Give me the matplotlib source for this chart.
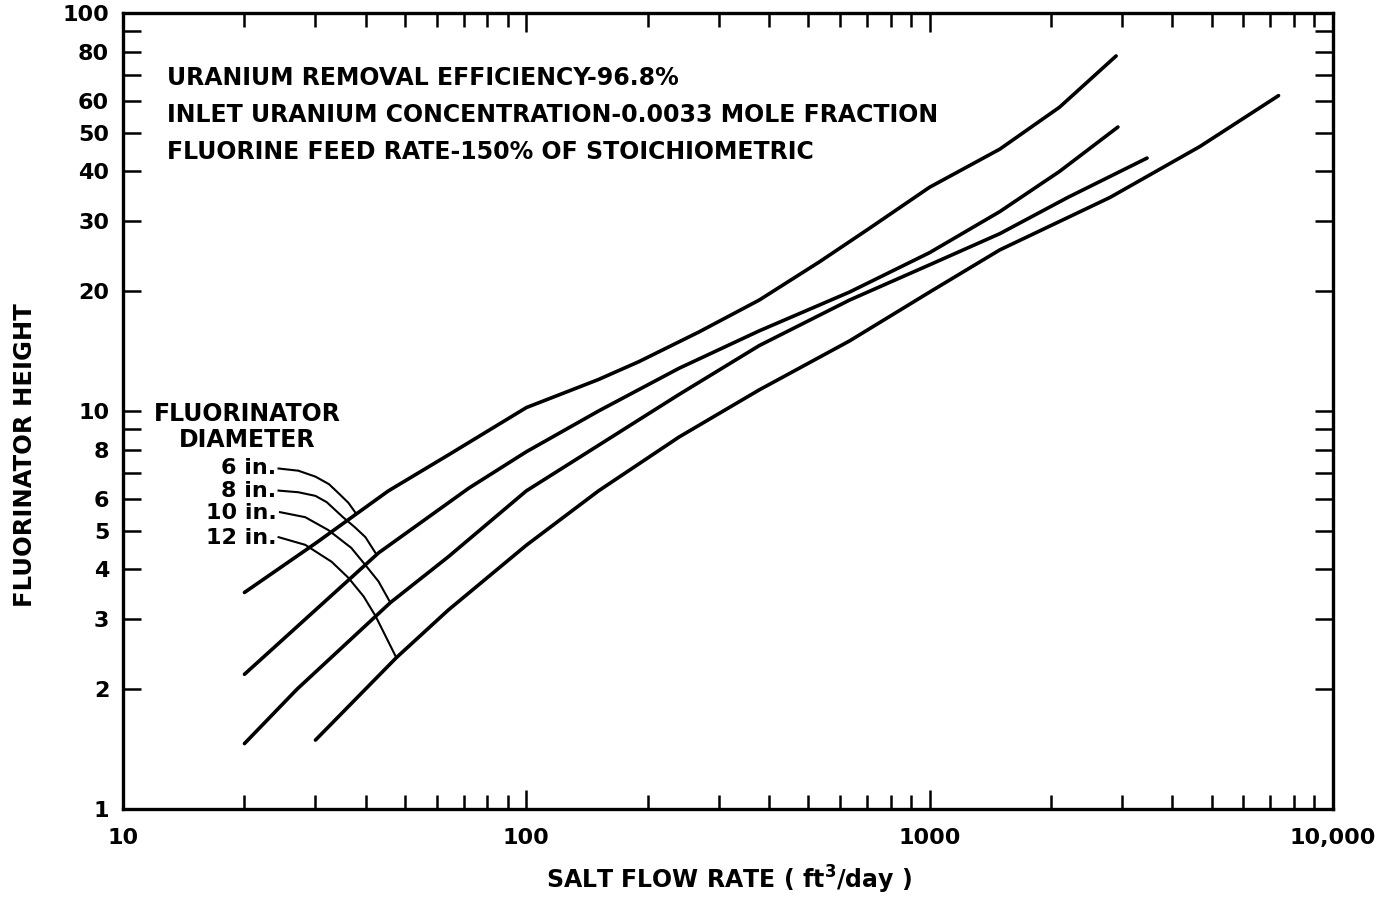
import matplotlib.pyplot as plt
from matplotlib.ticker import FixedLocator, NullFormatter

plt.rcParams['font.family'] = ['DejaVu Sans']
plt.rcParams['font.weight'] = 'bold'

# fluorinator height vs salt flow rate, one curve per diameter
flow_6 = [20, 30, 45.5, 64, 100, 151, 190, 268, 378, 533, 710, 1000, 1493, 2100, 2900]
height_6 = [3.5, 4.65, 6.3, 7.75, 10.2, 12.0, 13.3, 15.8, 19.0, 23.7, 28.8, 36.5, 45.5, 58.0, 78.0]

flow_8 = [20, 43, 72, 100, 151, 239, 378, 633, 1000, 1493, 2100, 2930]
height_8 = [2.18, 4.4, 6.4, 7.9, 10.0, 12.8, 15.9, 19.9, 25.0, 31.7, 40.0, 51.7]

flow_10 = [20, 27, 46, 64, 100, 151, 239, 378, 633, 1000, 1493, 2200, 3460]
height_10 = [1.46, 2.0, 3.3, 4.3, 6.3, 8.2, 11.0, 14.6, 19.0, 23.3, 27.9, 34.4, 43.2]

flow_12 = [30, 47.6, 64, 100, 151, 239, 378, 633, 1000, 1493, 2800, 4680, 7330]
height_12 = [1.49, 2.4, 3.16, 4.6, 6.3, 8.6, 11.3, 15.0, 19.9, 25.4, 34.4, 46.2, 62.0]

# leader lines from the diameter labels to their curves
lead_6_x = [24.3, 27.2, 30.0, 32.4, 34.2, 36.2, 37.7]
lead_6_y = [7.17, 7.08, 6.84, 6.55, 6.22, 5.88, 5.55]
lead_8_x = [24.3, 27.2, 30.0, 32.0, 35.1, 37.6, 39.9, 42.5]
lead_8_y = [6.31, 6.25, 6.12, 5.9, 5.41, 5.1, 4.82, 4.36]
lead_10_x = [24.5, 28.3, 32.3, 36.8, 39.9, 43.0, 46.0]
lead_10_y = [5.57, 5.41, 5.02, 4.53, 4.10, 3.73, 3.3]
lead_12_x = [24.3, 28.3, 32.9, 36.2, 39.5, 42.3, 47.6]
lead_12_y = [4.82, 4.61, 4.18, 3.81, 3.42, 3.05, 2.4]

diameters = ['6 in.', '8 in.', '10 in.', '12 in.']
label_y = [7.2, 6.3, 5.55, 4.8]

x_major = [10, 100, 1000, 10000]
x_major_labels = ['10', '100', '1000', '10,000']
y_labeled = [1, 2, 3, 4, 5, 6, 8, 10, 20, 30, 40, 50, 60, 80, 100]

notes = ['URANIUM REMOVAL EFFICIENCY-96.8%',
         'INLET URANIUM CONCENTRATION-0.0033 MOLE FRACTION',
         'FLUORINE FEED RATE-150% OF STOICHIOMETRIC']

fig = plt.figure(figsize=(13.78, 8.97), dpi=100)
ax = fig.add_axes([0.0893, 0.0981, 0.878, 0.8874])
ax.set_xscale('log')
ax.set_yscale('log')
ax.set_xlim(10, 10000)
ax.set_ylim(1, 100)

for xs, ys in [(flow_6, height_6), (flow_8, height_8), (flow_10, height_10), (flow_12, height_12)]:
    ax.plot(xs, ys, color='black', linewidth=2.6, solid_capstyle='round', solid_joinstyle='round')

for xs, ys in [(lead_6_x, lead_6_y), (lead_8_x, lead_8_y), (lead_10_x, lead_10_y), (lead_12_x, lead_12_y)]:
    ax.plot(xs, ys, color='black', linewidth=1.5, solid_joinstyle='round')

for name, yy in zip(diameters, label_y):
    ax.text(24.0, yy, name, ha='right', va='center', fontsize=16, fontweight='bold')
ax.text(20.3, 9.8, 'FLUORINATOR', ha='center', va='center', fontsize=17, fontweight='bold')
ax.text(20.3, 8.45, 'DIAMETER', ha='center', va='center', fontsize=17, fontweight='bold')

for i, line in enumerate(notes):
    ax.text(0.036, 0.918 - i * 0.046, line, transform=ax.transAxes, ha='left', va='center',
            fontsize=17, fontweight='bold')

# ticks point inward on all four sides
ax.xaxis.set_major_locator(FixedLocator(x_major))
ax.set_xticklabels(x_major_labels)
ax.xaxis.set_minor_locator(FixedLocator([m * d for d in [10, 100, 1000] for m in range(2, 10)]))
ax.xaxis.set_minor_formatter(NullFormatter())
ax.yaxis.set_major_locator(FixedLocator(y_labeled))
ax.set_yticklabels([str(v) for v in y_labeled])
ax.yaxis.set_minor_locator(FixedLocator([7, 9, 70, 90]))
ax.yaxis.set_minor_formatter(NullFormatter())

ax.tick_params(which='both', direction='in', top=True, right=True, width=1.8, labelsize=16)
ax.tick_params(axis='x', which='major', length=14, pad=14)
ax.tick_params(axis='x', which='minor', length=10)
ax.tick_params(axis='y', which='both', length=13, pad=10)
for s in ax.spines.values():
    s.set_linewidth(2.4)

fig.text(0.529, 0.019, 'SALT FLOW RATE ( ft$^\\mathbf{3}$/day )', ha='center', va='center',
         fontsize=17, fontweight='bold')
fig.text(0.018, 0.493, 'FLUORINATOR HEIGHT', rotation=90, ha='center', va='center',
         fontsize=17.5, fontweight='bold')

fig.savefig('out.png', dpi=100)
